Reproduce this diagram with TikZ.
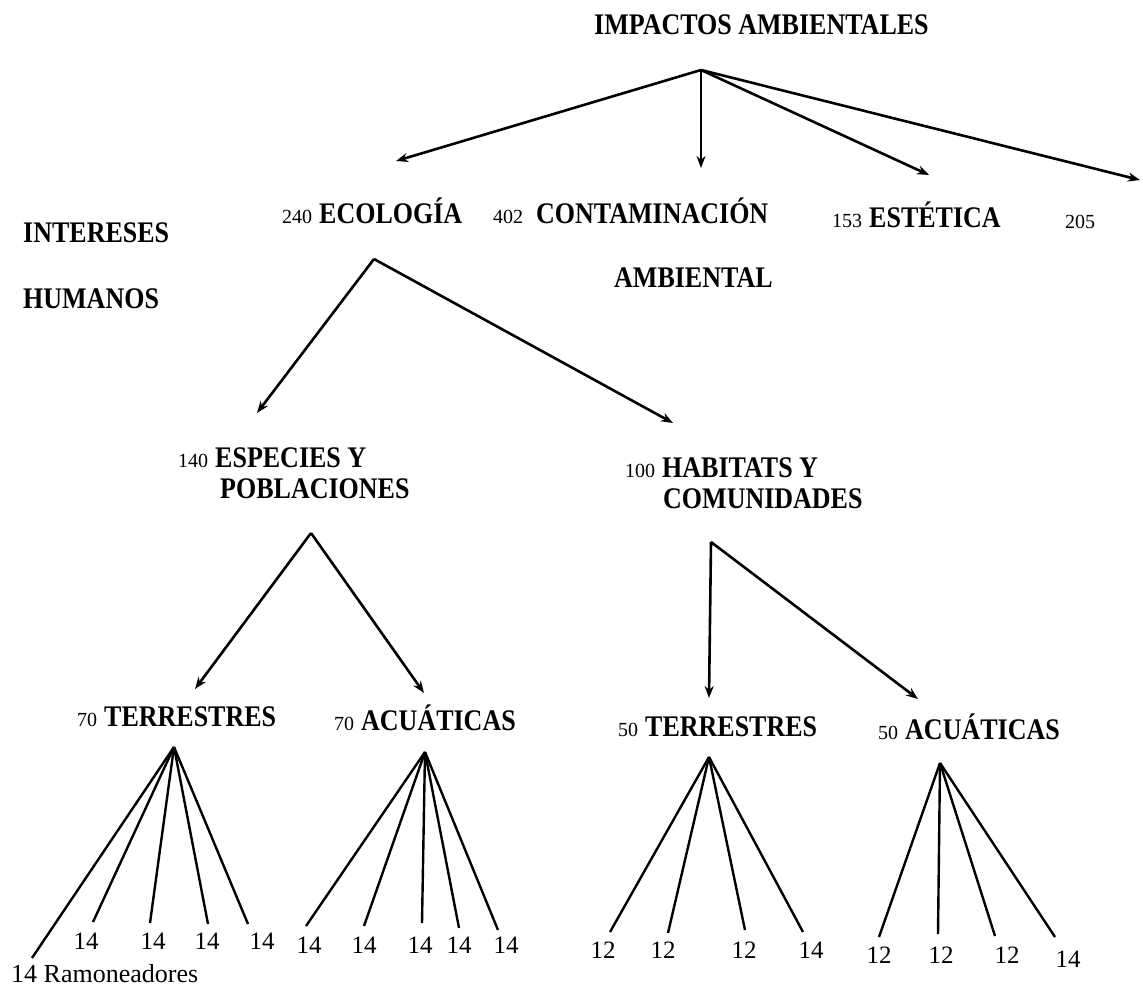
\documentclass[tikz,border=0pt]{standalone}
\usepackage{fontspec}
\setmainfont{Liberation Serif}
\usetikzlibrary{arrows.meta}
% bold headings are set a little taller than the plain font
\newcommand{\headtxt}[1]{\scalebox{1}[1.15]{\fontsize{26}{30}\selectfont\bfseries #1}}
% count in front of a heading, followed by a gap of the given width
\newcommand{\numtxt}[2][7pt]{{\fontsize{20}{24}\selectfont #2}\hspace{#1}}
\begin{document}
\begin{tikzpicture}[x=1pt,y=-1pt,
  lbl/.style={inner sep=0pt,anchor=base west},
  leaf/.style={inner sep=0pt,anchor=base,font=\fontsize{25}{29}\selectfont},
  arr/.style={line width=2.6pt,-{Stealth[length=12pt,width=9pt]}},
  fan/.style={line width=2.4pt}]
\useasboundingbox (0,0) rectangle (1143,987);

% titles and labels
\node[lbl] (title) at (594,35) {\headtxt{IMPACTOS AMBIENTALES}};
\node[lbl] (eco) at (282,223) {\numtxt{240}\headtxt{ECOLOGÍA}};
\node[lbl] (cont) at (493,224) {\numtxt[13pt]{402}\headtxt{CONTAMINACIÓN}};
\node[lbl] (amb) at (614,287) {\headtxt{AMBIENTAL}};
\node[lbl] (est) at (832,228) {\numtxt{153}\headtxt{ESTÉTICA}};
\node[lbl] (n205) at (1065,229) {{\fontsize{20}{24}\selectfont 205}};
\node[lbl] (int) at (23,243) {\headtxt{INTERESES}};
\node[lbl] (hum) at (23,308) {\headtxt{HUMANOS}};
\node[lbl] (esp) at (178,467) {\numtxt{140}\headtxt{ESPECIES Y}};
\node[lbl] (pob) at (220,498) {\headtxt{POBLACIONES}};
\node[lbl] (hab) at (625,477) {\numtxt{100}\headtxt{HABITATS Y}};
\node[lbl] (com) at (663,508) {\headtxt{COMUNIDADES}};
\node[lbl] (t70) at (77,726) {\numtxt{70}\headtxt{TERRESTRES}};
\node[lbl] (a70) at (334,730) {\numtxt{70}\headtxt{ACUÁTICAS}};
\node[lbl] (t50) at (618,736) {\numtxt{50}\headtxt{TERRESTRES}};
\node[lbl] (a50) at (878,739) {\numtxt{50}\headtxt{ACUÁTICAS}};

% apexes of the fans
\coordinate (pI) at (701,70);
\coordinate (pE) at (374,259);
\coordinate (pS) at (311,533);
\coordinate (pH) at (711,542);
\coordinate (pT1) at (174,747);
\coordinate (pA1) at (425,752);
\coordinate (pT2) at (709,757);
\coordinate (pA2) at (940,763);

% arrow tips
\coordinate (tEco) at (396,161);
\coordinate (tCont) at (701,168);
\coordinate (tEst) at (929,175);
\coordinate (tOut) at (1140,180);
\coordinate (tEsp) at (257,413);
\coordinate (tHab) at (673,423);
\coordinate (tT1) at (195,689);
\coordinate (tA1) at (424,693);
\coordinate (tT2) at (709,698);
\coordinate (tA2) at (918,699);

\draw[arr] (pI) -- (tEco);
\draw[arr] (pI) -- (tCont);
\draw[arr] (pI) -- (tEst);
\draw[arr] (pI) -- (tOut);
\draw[arr] (pE) -- (tEsp);
\draw[arr] (pE) -- (tHab);
\draw[arr] (pS) -- (tT1);
\draw[arr] (pS) -- (tA1);
\draw[arr] (pH) -- (tT2);
\draw[arr] (pH) -- (tA2);

% leaves of 70 TERRESTRES
\node[inner sep=0pt,anchor=base west,font=\fontsize{26}{30}\selectfont] (r1) at (11,982) {14 Ramoneadores};
\node[leaf] (r2) at (86,949) {14};
\node[leaf] (r3) at (153,949) {14};
\node[leaf] (r4) at (207,949) {14};
\node[leaf] (r5) at (262,949) {14};
\coordinate (e1) at (32,958);
\coordinate (e2) at (93,922);
\coordinate (e3) at (150,923);
\coordinate (e4) at (208,924);
\coordinate (e5) at (248,924);
\foreach \i in {1,...,5} \draw[fan] (pT1) -- (e\i);

% leaves of 70 ACUÁTICAS
\node[leaf] (s1) at (309,953) {14};
\node[leaf] (s2) at (364,953) {14};
\node[leaf] (s3) at (420,953) {14};
\node[leaf] (s4) at (459,953) {14};
\node[leaf] (s5) at (506,953) {14};
\coordinate (f1) at (306,926);
\coordinate (f2) at (364,926);
\coordinate (f3) at (422,923);
\coordinate (f4) at (459,928);
\coordinate (f5) at (498,930);
\foreach \i in {1,...,5} \draw[fan] (pA1) -- (f\i);

% leaves of 50 TERRESTRES
\node[leaf] (u1) at (603,958) {12};
\node[leaf] (u2) at (663,958) {12};
\node[leaf] (u3) at (744,958) {12};
\node[leaf] (u4) at (811,958) {14};
\coordinate (g1) at (610,932);
\coordinate (g2) at (668,933);
\coordinate (g3) at (745,930);
\coordinate (g4) at (803,932);
\foreach \i in {1,...,4} \draw[fan] (pT2) -- (g\i);

% leaves of 50 ACUÁTICAS
\node[leaf] (v1) at (879,963) {12};
\node[leaf] (v2) at (941,963) {12};
\node[leaf] (v3) at (1007,963) {12};
\node[leaf] (v4) at (1068,967) {14};
\coordinate (h1) at (879,937);
\coordinate (h2) at (938,934);
\coordinate (h3) at (995,936);
\coordinate (h4) at (1055,937);
\foreach \i in {1,...,4} \draw[fan] (pA2) -- (h\i);
\end{tikzpicture}
\end{document}
